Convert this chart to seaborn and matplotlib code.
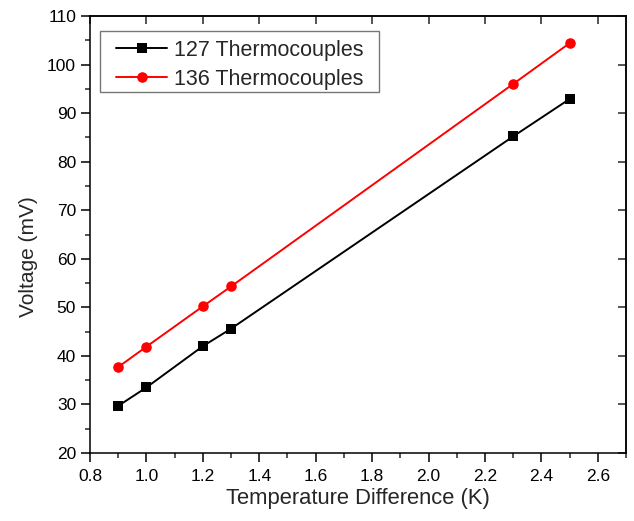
import matplotlib
matplotlib.use("Agg")
import matplotlib.pyplot as plt
import seaborn as sns
import pandas as pd
from matplotlib.ticker import MultipleLocator
from matplotlib.path import Path

temp_diff = [0.9, 1.0, 1.2, 1.3, 2.3, 2.5]
volt_127 = [29.7, 33.5, 42.0, 45.6, 85.2, 92.9]
volt_136 = [37.7, 41.9, 50.2, 54.3, 96.0, 104.4]
series_names = ["127 Thermocouples", "136 Thermocouples"]
x_ticks = [0.8, 1.0, 1.2, 1.4, 1.6, 1.8, 2.0, 2.2, 2.4, 2.6]
y_ticks = [20, 30, 40, 50, 60, 70, 80, 90, 100, 110]

df = pd.DataFrame({
    "Temperature Difference (K)": temp_diff * 2,
    "Voltage (mV)": volt_127 + volt_136,
    "Series": [series_names[0]] * len(temp_diff) + [series_names[1]] * len(temp_diff),
})

sns.set_theme(style="ticks")
plt.rcParams["font.family"] = ["Liberation Sans", "DejaVu Sans"]

fig = plt.figure(figsize=(6.34, 5.21), dpi=100)
ax = fig.add_axes([90/634, 68/521, 536/634, 437/521])

sns.lineplot(data=df, x="Temperature Difference (K)", y="Voltage (mV)", hue="Series",
             style="Series", markers={series_names[0]: "s", series_names[1]: "o"},
             dashes=False, palette={series_names[0]: "black", series_names[1]: "red"},
             markersize=7, markeredgewidth=0, linewidth=1.4, ax=ax)

sizes = {"s": 6.5, "o": 7.6}
for ln in ax.lines:
    m = ln.get_marker()
    if m in sizes:
        ln.set_markersize(sizes[m])

ax.set_xlim(0.8, 2.7)
ax.set_ylim(20, 110)
ax.set_xticks(x_ticks)
ax.set_xticklabels([f"{v:.1f}" for v in x_ticks])
ax.set_yticks(y_ticks)
ax.xaxis.set_minor_locator(MultipleLocator(0.1))
ax.yaxis.set_minor_locator(MultipleLocator(5))
ax.tick_params(which="major", direction="out", length=6.5, width=1.1, labelsize=12.5,
               colors="black")
ax.tick_params(axis="x", which="major", pad=5)
ax.tick_params(axis="y", which="major", pad=3.5)
ax.tick_params(which="minor", direction="out", length=3.5, width=1.1)

for s in ax.spines.values():
    s.set_linewidth(1.1)
    s.set_color("black")

top = ax.secondary_xaxis("top")
top.set_xticks(x_ticks)
top.tick_params(direction="in", length=6, width=1.1, labeltop=False)
right = ax.secondary_yaxis("right")
right.set_yticks(y_ticks)
right.tick_params(direction="in", length=6, width=1.1, labelright=False)

ax.set_xlabel("Temperature Difference (K)", fontsize=15.8, labelpad=3)
ax.set_ylabel("Voltage (mV)", fontsize=15, labelpad=8)
ax.yaxis.set_label_coords(-0.097, 0.45)

leg = ax.legend(loc="upper left", bbox_to_anchor=(0.0187 + 10/536, 0.96), borderaxespad=0,
                fontsize=15.5, frameon=True, fancybox=False, edgecolor="#555555",
                handlelength=2.35, borderpad=0.3, labelspacing=0.36, handletextpad=0.3)
for h in leg.legend_handles:
    m = h.get_marker()
    if m in sizes:
        h.set_markersize(sizes[m])


def wide_box(x0, y0, width, height, mutation_size):
    dx = 10.0
    x1 = x0 - dx
    x2 = x0 + width + dx
    y1 = y0 + 4.0
    y2 = y0 + height + 2.0
    return Path([(x1, y1), (x2, y1), (x2, y2), (x1, y2), (x1, y1)],
                [Path.MOVETO, Path.LINETO, Path.LINETO, Path.LINETO, Path.CLOSEPOLY])


leg.get_frame().set_boxstyle(wide_box)
leg.get_frame().set_linewidth(1.0)

fig.savefig("out.png", dpi=100)
